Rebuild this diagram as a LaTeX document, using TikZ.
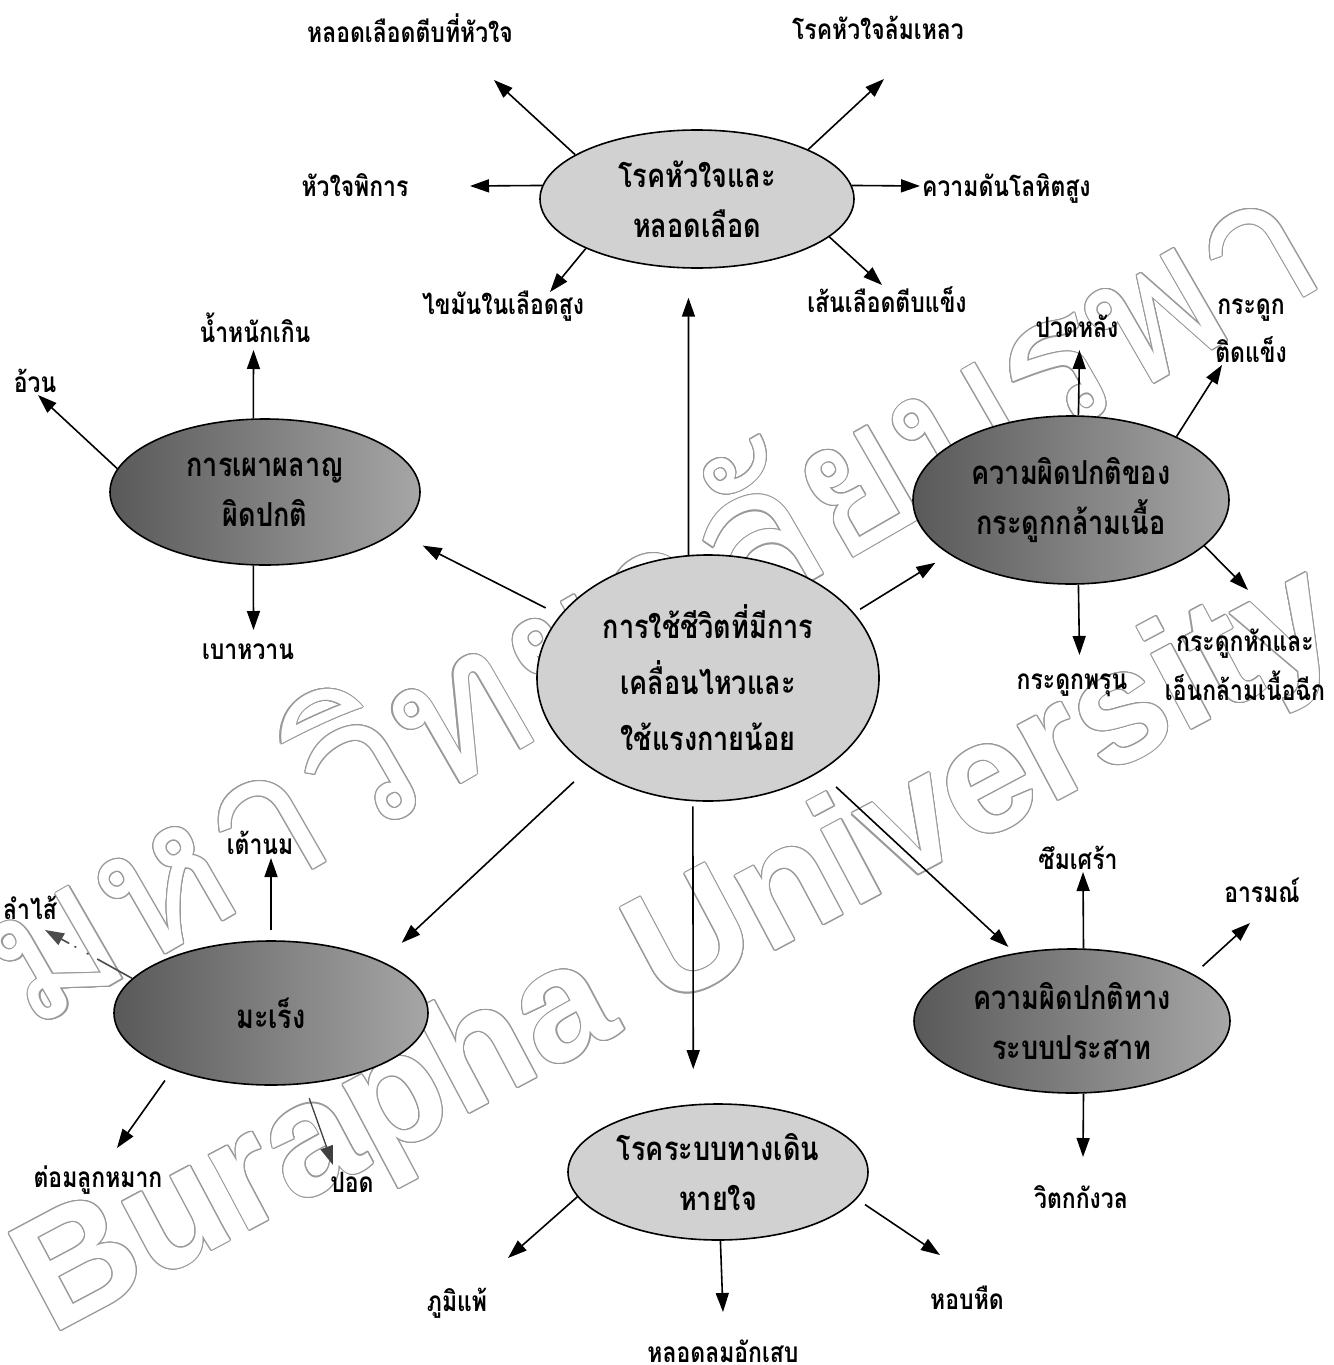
\documentclass[tikz,border=0pt]{standalone}
\usepackage{fontspec}
\setmainfont[Script=Thai,FakeStretch=0.82]{Loma}
\newfontfamily\wmthai[Script=Thai]{Loma}
\newfontfamily\wmlatin{Liberation Sans}
\usepackage[copies]{contour}
\contourlength{1.1pt}
\contournumber{16}
\usetikzlibrary{shapes.geometric,arrows.meta}
\tikzset{
  arr/.style={line width=1.6pt,-{Triangle[length=19pt,width=13pt]}},
  lbl/.style={font=\fontsize{28}{30}\selectfont\bfseries,inner sep=0pt,anchor=base},
  ell/.style={ellipse,draw,line width=1.6pt,inner sep=0pt,align=center,
    font=\fontsize{33}{50}\selectfont\bfseries},
  lightell/.style={ell,fill=black!18},
  darkell/.style={ell,left color=black!65,right color=black!35},
  wm/.style={inner sep=0pt}
}
\begin{document}
\begin{tikzpicture}[x=1pt,y=-1pt]
\fill[white] (0,0) rectangle (1333,1365);
\useasboundingbox (0,0) rectangle (1333,1365);
% watermark
\node[wm,rotate=30] (wm1) at (655,612) {\wmthai\fontsize{192}{192}\selectfont\contour{black!40}{\color{white}มหาวิทยาลัยบูรพา}};
\node[wm,rotate=28] (wm2) at (680,955) {\wmlatin\bfseries\fontsize{160}{160}\selectfont\contour{black!40}{\color{white}Burapha University}};
% ellipses
\node[lightell,minimum width=314pt,minimum height=138pt] (T) at (697,199) {โรคหัวใจและ\\หลอดเลือด};
\node[darkell,minimum width=310pt,minimum height=146pt] (L) at (265,492) {การเผาผลาญ\\ผิดปกติ};
\node[darkell,minimum width=316pt,minimum height=168pt] (R) at (1071,500) {ความผิดปกติของ\\กระดูกกล้ามเนื้อ};
\node[lightell,minimum width=342pt,minimum height=246pt,font=\fontsize{33}{56}\selectfont\bfseries] (C) at (708,678) {การใช้ชีวิตที่มีการ\\เคลื่อนไหวและ\\ใช้แรงกายน้อย};
\node[darkell,minimum width=314pt,minimum height=144pt] (M) at (271,1013) {มะเร็ง};
\node[darkell,minimum width=316pt,minimum height=144pt] (N) at (1072,1021) {ความผิดปกติทาง\\ระบบประสาท};
\node[lightell,minimum width=300pt,minimum height=136pt] (B) at (718,1172) {โรคระบบทางเดิน\\หายใจ};
% labels
\node[lbl] (t1) at (410,42) {หลอดเลือดตีบที่หัวใจ};
\node[lbl] (t2) at (878,39) {โรคหัวใจล้มเหลว};
\node[lbl] (t3) at (355,196) {หัวใจพิการ};
\node[lbl,anchor=base west] (t4) at (922,196) {ความดันโลหิตสูง};
\node[lbl] (t5) at (503,314) {ไขมันในเลือดสูง};
\node[lbl] (t6) at (887,312) {เส้นเลือดตีบแข็ง};
\node[lbl] (l1) at (255,342) {น้ำหนักเกิน};
\node[lbl] (l2) at (35,392) {อ้วน};
\node[lbl] (l3) at (248,659) {เบาหวาน};
\node[lbl] (r1) at (1077,337) {ปวดหลัง};
\node[lbl,anchor=center,align=center,font=\fontsize{28}{48}\selectfont\bfseries] (r2) at (1251,331) {กระดูก\\ติดแข็ง};
\node[lbl] (r3) at (1072,689) {กระดูกพรุน};
\node[lbl,anchor=center,align=center,font=\fontsize{28}{49}\selectfont\bfseries] (r4) at (1245,665) {กระดูกหักและ\\เอ็นกล้ามเนื้อฉีก};
\node[lbl] (m1) at (260,854) {เต้านม};
\node[lbl] (m2) at (30,919) {ลำไส้};
\node[lbl] (m3) at (98,1187) {ต่อมลูกหมาก};
\node[lbl] (m4) at (352,1192) {ปอด};
\node[lbl] (n1) at (1078,869) {ซึมเศร้า};
\node[lbl] (n2) at (1262,902) {อารมณ์};
\node[lbl] (n3) at (1081,1208) {วิตกกังวล};
\node[lbl] (b1) at (457,1311) {ภูมิแพ้};
\node[lbl] (b2) at (723,1362) {หลอดลมอักเสบ};
\node[lbl] (b3) at (967,1309) {หอบหืด};
% arrow end points
\coordinate (tA) at (494,80);
\coordinate (tB) at (884,79);
\coordinate (tC) at (470,186);
\coordinate (tD) at (920,186);
\coordinate (tE) at (550,292);
\coordinate (tF) at (882,285);
\coordinate (lA) at (253.5,350);
\coordinate (lB) at (38,395);
\coordinate (lC) at (253.5,630);
\coordinate (rA) at (1079.5,350);
\coordinate (rB) at (1222,365);
\coordinate (rC) at (1079.5,655);
\coordinate (rD) at (1248,590);
\coordinate (mA) at (271,858);
\coordinate (mB) at (45,930);
\coordinate (mC) at (117,1148);
\coordinate (mD) at (333,1165);
\coordinate (nA) at (1083,872);
\coordinate (nB) at (1250,923);
\coordinate (nC) at (1083,1157);
\coordinate (bA) at (508,1258);
\coordinate (bB) at (723,1312);
\coordinate (bC) at (940,1255);
% top cluster
\draw[arr] (T.160) -- (tA);
\draw[arr] (T.24) -- (tB);
\draw[arr] (T.175) -- (tC);
\draw[arr] (T.5) -- (tD);
\draw[arr] (T.204) -- (tE);
\draw[arr] (T.344) -- (tF);
% left cluster
\draw[arr] (L.99) -- (lA);
\draw[arr] (L.171) -- (lB);
\draw[arr] (L.261) -- (lC);
% right cluster
\draw[arr] (R.85) -- (rA);
\draw[arr] (R.31) -- (rB);
\draw[arr] (R.275) -- (rC);
\draw[arr] (R.341) -- (rD);
% centre
\draw[arr,shorten <=16pt,shorten >=30pt] (C.157) -- (L.343);
\draw[arr,shorten <=7pt,shorten >=16pt] (C.24) -- (R.204);
\draw[arr,shorten >=29pt] (C.99) -- (T.263);
\draw[arr,shorten <=21pt,shorten >=27pt] (C.217) -- (M.25);
\draw[arr,shorten <=5pt,shorten >=35pt] (C.263) -- (B.110);
\draw[arr,shorten <=22pt,shorten >=9pt] (C.320) -- (N.130);
% cancer cluster
\draw[arr,shorten <=10pt] (M.90) -- (mA);
\draw[arr,black!70,dash pattern=on 40pt off 10pt on 2pt off 12pt on 2pt off 6pt] (M.166) -- (mB);
\draw[arr,shorten <=13pt] (M.210) -- (mC);
\draw[arr,black!75,line width=1.3pt,shorten <=15pt] (M.295) -- (mD);
% nervous cluster
\draw[arr] (N.81) -- (nA);
\draw[arr,shorten <=12pt] (N.21) -- (nB);
\draw[arr] (N.279) -- (nC);
% respiratory cluster
\draw[arr] (B.190) -- (bA);
\draw[arr] (B.272) -- (bB);
\draw[arr,shorten <=10pt] (B.349) -- (bC);
\end{tikzpicture}
\end{document}
